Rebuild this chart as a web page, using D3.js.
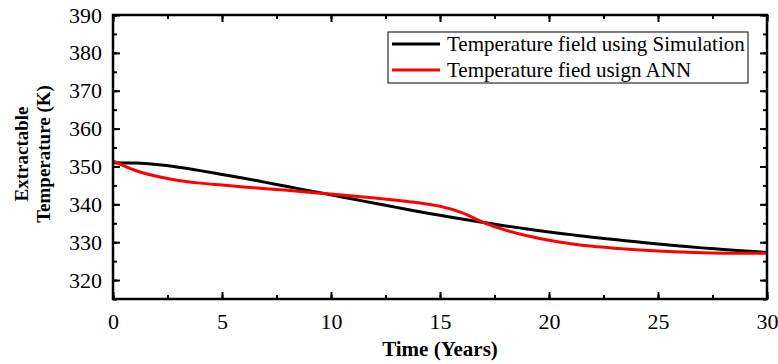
<!DOCTYPE html>
<html>
<head>
<meta charset="utf-8">
<script src="https://cdn.jsdelivr.net/npm/d3@7"></script>
<style>
  body { margin: 0; background: #fff; }
</style>
</head>
<body>
<div id="chart"></div>
<script>
// values
var years = [0, 1, 2, 3, 4, 5, 6, 7, 8, 9, 10, 11, 12, 13, 14, 15, 16, 17, 18, 19, 20, 21, 22, 23, 24, 25, 26, 27, 28, 29, 30];
var simTemp = [351, 350.9, 350.5, 349.8, 348.9, 347.9, 346.9, 345.8, 344.7, 343.6, 342.5, 341.4, 340.3, 339.2, 338.1, 337.1, 336.1, 335.2, 334.3, 333.5, 332.7, 332, 331.3, 330.7, 330.1, 329.5, 329, 328.5, 328.1, 327.7, 327.3];
var annTemp = [351.5, 349, 347.4, 346.3, 345.6, 345.1, 344.6, 344.1, 343.7, 343.2, 342.7, 342.2, 341.7, 341.1, 340.4, 339.5, 337.8, 335.2, 333.2, 331.7, 330.5, 329.6, 328.9, 328.4, 328, 327.7, 327.4, 327.2, 327.1, 327.1, 327.1];
var seriesNames = ["Temperature field using Simulation", "Temperature fied usign ANN"];
var seriesColors = ["#000000", "#ff0000"];
var xTicks = [0, 5, 10, 15, 20, 25, 30];
var yTicks = [320, 330, 340, 350, 360, 370, 380, 390];

var font = "'Liberation Serif', 'Times New Roman', 'DejaVu Serif', serif";
var width = 778, height = 364;
var margin = {left: 113, right: 11, top: 15, bottom: 65};

var svg = d3.select("#chart").append("svg")
    .attr("width", width)
    .attr("height", height)
    .style("font-family", font);

var x = d3.scaleLinear().domain([0, 30]).range([margin.left, width - margin.right]);
var y = d3.scaleLinear().domain([315, 390]).range([height - margin.bottom, margin.top]);

var series = [simTemp, annTemp];

var line = d3.line()
    .x(function(d, i){ return x(years[i]); })
    .y(function(d){ return y(d); })
    .curve(d3.curveCatmullRom);

var plot = svg.append("g");
series.forEach(function(s, k){
    plot.append("path")
        .datum(s)
        .attr("fill", "none")
        .attr("stroke", seriesColors[k])
        .attr("stroke-width", 3)
        .attr("d", line);
});

// axes, ticks pointing inward
var minorX = d3.range(0, 30.01, 2.5);
var minorY = d3.range(315, 390.01, 5);

function tickAxis(axis, scale, major, minor, transform, pad){
    var g = svg.append("g").attr("transform", transform);
    g.call(axis(scale).tickValues(minor).tickSize(-4).tickFormat(""));
    var g2 = svg.append("g").attr("transform", transform);
    g2.call(axis(scale).tickValues(major).tickSize(-7).tickPadding(pad));
    [g, g2].forEach(function(a){
        a.attr("font-family", null);
        a.select(".domain").remove();
        a.selectAll("line").attr("stroke", "#000").attr("stroke-width", 2);
    });
    return g2;
}

var xb = tickAxis(d3.axisBottom, x, xTicks, minorX, "translate(0," + (height - margin.bottom) + ")", 14);
xb.selectAll("text").attr("font-size", 22).attr("fill", "#000").style("font-family", font);
var xt = tickAxis(d3.axisTop, x, xTicks, minorX, "translate(0," + margin.top + ")", 0);
xt.selectAll("text").remove();
var yl = tickAxis(d3.axisLeft, y, yTicks, minorY, "translate(" + margin.left + ",0)", 11);
yl.selectAll("text").attr("font-size", 22).attr("fill", "#000").style("font-family", font);
var yr = tickAxis(d3.axisRight, y, yTicks, minorY, "translate(" + (width - margin.right) + ",0)", 0);
yr.selectAll("text").remove();

svg.append("rect")
    .attr("x", margin.left)
    .attr("y", margin.top)
    .attr("width", width - margin.left - margin.right)
    .attr("height", height - margin.top - margin.bottom)
    .attr("fill", "none")
    .attr("stroke", "#000")
    .attr("stroke-width", 2.5);

// axis titles
svg.append("text")
    .attr("x", 440)
    .attr("y", 356)
    .attr("text-anchor", "middle")
    .attr("font-size", 21)
    .attr("font-weight", "bold")
    .style("font-family", font)
    .text("Time (Years)");

var yTitle = svg.append("text")
    .attr("transform", "translate(28,154) rotate(-90)")
    .attr("text-anchor", "middle")
    .attr("font-size", 19)
    .attr("font-weight", "bold")
    .style("font-family", font);
yTitle.append("tspan").attr("x", 0).attr("dy", 0).text("Extractable");
yTitle.append("tspan").attr("x", 0).attr("dy", 22).text("Temperature (K)");

// legend
var legend = svg.append("g").attr("transform", "translate(388,32)");
legend.append("rect")
    .attr("width", 360)
    .attr("height", 51)
    .attr("fill", "#fff")
    .attr("stroke", "#000")
    .attr("stroke-width", 1);
seriesNames.forEach(function(name, k){
    var row = legend.append("g").attr("transform", "translate(0," + (12 + k * 26) + ")");
    row.append("line")
        .attr("x1", 4).attr("x2", 52)
        .attr("y1", 0).attr("y2", 0)
        .attr("stroke", seriesColors[k])
        .attr("stroke-width", 3);
    row.append("text")
        .attr("x", 59)
        .attr("y", 7)
        .attr("font-size", 21)
        .style("font-family", font)
        .text(name);
});
</script>
</body>
</html>
